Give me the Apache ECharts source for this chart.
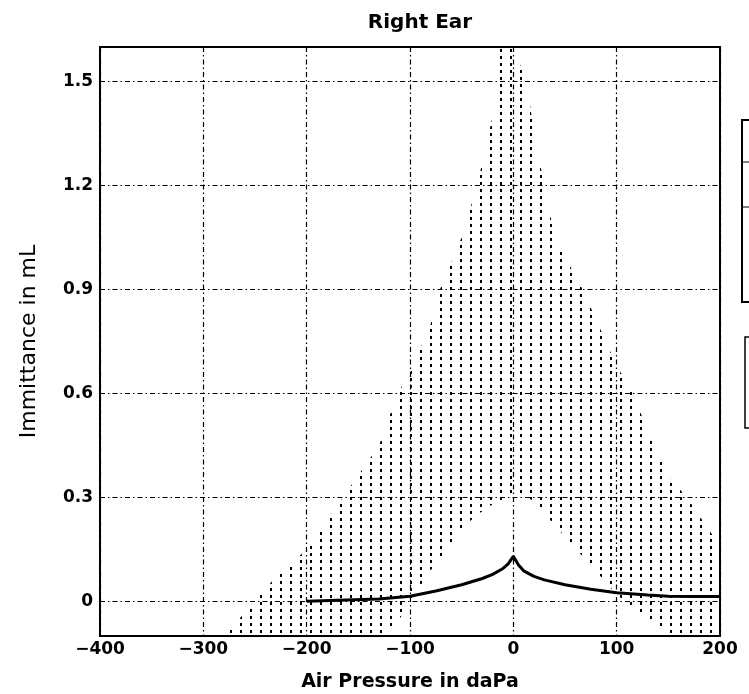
<!DOCTYPE html>
<html>
<head>
<meta charset="utf-8">
<script src="https://cdn.jsdelivr.net/npm/echarts@6/dist/echarts.min.js"></script>
<style>
  html, body { margin: 0; padding: 0; background: #fff; }
  #chart { width: 749px; height: 694px; }
</style>
</head>
<body>
<div id="chart"></div>
<script>
// tick labels
var xTicks = [-400, -300, -200, -100, 0, 100, 200];
var yTicks = [0, 0.3, 0.6, 0.9, 1.2, 1.5];

// shaded normal region (upper / lower edge)
var bandX     = [-280, -250, -230, -200, -165, -130, -112, -100, -80, -71, -50, -35, -20, -13, 0, 13, 20, 40, 67, 100, 116, 130, 150, 168, 193, 200];
var bandUpper = [-0.1, 0.0, 0.07, 0.15, 0.3, 0.45, 0.6, 0.66, 0.8, 0.9, 1.05, 1.2, 1.4, 1.6, 1.6, 1.5, 1.35, 1.05, 0.9, 0.68, 0.6, 0.49, 0.36, 0.3, 0.19, 0.17];
var bandLower = [-0.1, -0.1, -0.1, -0.1, -0.1, -0.1, -0.06, 0.0, 0.09, 0.12, 0.21, 0.25, 0.28, 0.29, 0.31, 0.3, 0.29, 0.22, 0.13, 0.02, -0.02, -0.05, -0.09, -0.1, -0.1, -0.1];

// measured tympanogram
var curveX = [-200, -170, -130, -100, -75, -50, -30, -20, -10, -5, 0, 5, 10, 20, 30, 50, 75, 100, 130, 150, 175, 200];
var curveY = [0.0, 0.003, 0.007, 0.015, 0.03, 0.048, 0.066, 0.078, 0.095, 0.108, 0.13, 0.105, 0.088, 0.072, 0.062, 0.048, 0.035, 0.025, 0.018, 0.015, 0.014, 0.014];

var zip = function (a, b) {
  var out = [];
  for (var i = 0; i < a.length; i++) out.push([a[i], b[i]]);
  return out;
};

// stipple texture: short vertical dashes
var cnv = document.createElement('canvas');
cnv.width = 10;
cnv.height = 7;
var ctx = cnv.getContext('2d');
ctx.fillStyle = '#000';
ctx.fillRect(0, 0, 2, 3);
var stipple = { image: cnv, repeat: 'repeat' };

var minus = function (v) {
  return v < 0 ? '\u2212' + Math.abs(v) : String(v);
};

var FONT = 'DejaVu Sans, Arial, sans-serif';
var lblFont = { color: '#000', fontSize: 17, fontWeight: 'bold', fontFamily: FONT };
var gridLine = { show: true, lineStyle: { color: '#000', width: 1.2, type: [5, 3, 1.5, 3] } };

var chart = echarts.init(document.getElementById('chart'));
chart.setOption({
  backgroundColor: '#fff',
  animation: false,
  title: {
    text: 'Right Ear',
    left: 415,
    top: 8,
    textAlign: 'center',
    textStyle: { fontSize: 20, fontWeight: 'bold', color: '#000', fontFamily: FONT }
  },
  grid: {
    left: 100, right: 29, top: 47, bottom: 58,
    outerBoundsMode: 'none',
    containLabel: false,
    show: true, borderColor: '#000', borderWidth: 2, backgroundColor: 'transparent'
  },
  xAxis: {
    type: 'value',
    min: -400, max: 200, interval: 100,
    name: 'Air Pressure in daPa',
    nameLocation: 'middle',
    nameGap: 37,
    nameTextStyle: { fontSize: 19, fontWeight: 'bold', color: '#000', fontFamily: FONT },
    axisLine: { show: false },
    axisTick: { show: false },
    axisLabel: Object.assign({ margin: 5, formatter: minus }, lblFont),
    splitLine: gridLine
  },
  yAxis: {
    type: 'value',
    min: -0.1, max: 1.6,
    name: 'Immittance in mL',
    nameLocation: 'middle',
    nameGap: 60,
    nameTextStyle: { fontSize: 22, color: '#000', fontFamily: FONT },
    axisLine: { show: false },
    axisTick: { show: false, customValues: yTicks },
    axisLabel: Object.assign({ margin: 7, customValues: yTicks }, lblFont),
    splitLine: gridLine
  },
  series: [{
    name: 'normal',
    type: 'custom',
    silent: true,
    clip: true,
    data: zip(bandX, bandUpper),
    encode: { x: 0, y: 1 },
    renderItem: function (params, api) {
      if (params.dataIndex !== 0) return;
      var pts = [];
      for (var i = 0; i < bandX.length; i++) pts.push(api.coord([bandX[i], bandUpper[i]]));
      for (var j = bandX.length - 1; j >= 0; j--) pts.push(api.coord([bandX[j], bandLower[j]]));
      return { type: 'polygon', shape: { points: pts }, style: { fill: stipple } };
    },
    z: 1
  }, {
    name: 'Right Ear',
    type: 'line',
    symbol: 'none',
    lineStyle: { color: '#000', width: 3 },
    data: zip(curveX, curveY),
    z: 5
  }],
  graphic: [
    { type: 'rect', shape: { x: 742, y: 120, width: 30, height: 182 }, style: { fill: 'none', stroke: '#000', lineWidth: 2 } },
    { type: 'line', shape: { x1: 742, y1: 162, x2: 760, y2: 162 }, style: { stroke: '#000', lineWidth: 1 } },
    { type: 'line', shape: { x1: 742, y1: 207, x2: 760, y2: 207 }, style: { stroke: '#000', lineWidth: 1 } },
    { type: 'rect', shape: { x: 745, y: 337, width: 30, height: 91 }, style: { fill: 'none', stroke: '#000', lineWidth: 1.5 } }
  ]
});
</script>
</body>
</html>
